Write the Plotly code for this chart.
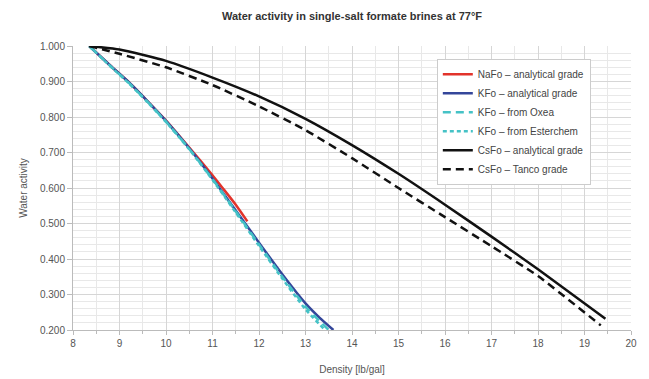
import plotly.graph_objects as go

# Density [lb/gal] and water activity for each brine
nafo_density = [8.35, 8.8, 9.2, 9.6, 10.0, 10.5, 11.0, 11.2, 11.5, 11.75]
nafo_aw = [1.000, 0.945, 0.898, 0.845, 0.790, 0.714, 0.636, 0.603, 0.553, 0.506]

kfo_density = [8.35, 8.8, 9.2, 9.6, 10.0, 10.5, 11.0, 11.5, 12.0, 12.5, 13.0, 13.3, 13.6]
kfo_aw = [1.000, 0.945, 0.898, 0.845, 0.789, 0.712, 0.627, 0.537, 0.446, 0.357, 0.275, 0.235, 0.200]

kfo_oxea_density = [8.35, 8.8, 9.2, 9.6, 10.0, 10.5, 11.0, 11.5, 12.0, 12.5, 13.0, 13.5]
kfo_oxea_aw = [1.000, 0.944, 0.896, 0.843, 0.787, 0.710, 0.625, 0.534, 0.441, 0.350, 0.266, 0.200]

kfo_ester_density = [8.35, 8.8, 9.2, 9.6, 10.0, 10.5, 11.0, 11.5, 12.0, 12.5, 13.0, 13.42]
kfo_ester_aw = [1.000, 0.943, 0.895, 0.842, 0.786, 0.709, 0.623, 0.531, 0.437, 0.345, 0.258, 0.200]

csfo_density = [8.35, 9.0, 10.0, 11.0, 12.0, 13.0, 14.0, 15.0, 16.0, 17.0, 18.0, 19.45]
csfo_aw = [1.000, 0.990, 0.958, 0.911, 0.858, 0.795, 0.721, 0.640, 0.553, 0.463, 0.371, 0.232]

csfo_tanco_density = [8.35, 9.0, 10.0, 11.0, 12.0, 13.0, 14.0, 15.0, 16.0, 17.0, 18.0, 19.35]
csfo_tanco_aw = [1.000, 0.978, 0.940, 0.890, 0.830, 0.763, 0.684, 0.600, 0.518, 0.436, 0.352, 0.213]

series = [
    ("NaFo \u2013 analytical grade", nafo_density, nafo_aw, "#e2332b", "solid"),
    ("KFo \u2013 analytical grade", kfo_density, kfo_aw, "#34469a", "solid"),
    ("KFo \u2013 from Oxea", kfo_oxea_density, kfo_oxea_aw, "#45c2c6", "8px,5px"),
    ("KFo \u2013 from Esterchem", kfo_ester_density, kfo_ester_aw, "#45c2c6", "4px,3px"),
    ("CsFo \u2013 analytical grade", csfo_density, csfo_aw, "#111111", "solid"),
    ("CsFo \u2013 Tanco grade", csfo_tanco_density, csfo_tanco_aw, "#111111", "8px,5px"),
]

fig = go.Figure()
for name, xs, ys, color, dash in series:
    fig.add_trace(go.Scatter(
        x=xs, y=ys, mode="lines", name=name,
        line=dict(color=color, width=2.5, dash=dash, shape="spline", smoothing=0.5),
    ))

font_family = "Liberation Sans, Arial, sans-serif"

fig.update_layout(
    width=649, height=379,
    margin=dict(l=73, r=18, t=46, b=49),
    paper_bgcolor="white",
    plot_bgcolor="white",
    font=dict(family=font_family, size=10, color="#555555"),
    title=dict(
        text="<b>Water activity in single-salt formate brines at 77\u00b0F</b>",
        x=0.5, xref="paper", xanchor="center",
        y=0.958, yref="container", yanchor="middle",
        font=dict(size=11, color="#333333"),
    ),
    legend=dict(
        x=0.652, y=0.955, xanchor="left", yanchor="top",
        bgcolor="white", bordercolor="#cccccc", borderwidth=1,
        font=dict(size=10, color="#444444"),
        tracegroupgap=0,
    ),
    xaxis=dict(
        range=[8, 20], dtick=1, tick0=8,
        automargin=False,
        showgrid=True, gridcolor="#d6d6d6", gridwidth=1,
        minor=dict(dtick=0.5, showgrid=True, gridcolor="#e8e8e8", ticks="outside",
                   ticklen=3, tickcolor="#bbbbbb"),
        ticks="outside", ticklen=4, tickcolor="#bbbbbb",
        showline=True, linecolor="#bbbbbb", linewidth=1,
        zeroline=False,
        title=dict(text="Density [lb/gal]", font=dict(size=10, color="#555555"), standoff=17),
        tickfont=dict(size=10, color="#555555"),
    ),
    yaxis=dict(
        range=[0.2, 1.0], dtick=0.1, tick0=0.2, tickformat=".3f",
        automargin=False,
        showgrid=True, gridcolor="#d6d6d6", gridwidth=1,
        minor=dict(dtick=0.02, showgrid=True, gridcolor="#e8e8e8"),
        ticks="outside", ticklen=5, tickcolor="#bbbbbb",
        showline=True, linecolor="#bbbbbb", linewidth=1,
        zeroline=False,
        title=dict(text="Water activity", font=dict(size=10, color="#555555"), standoff=10),
        tickfont=dict(size=10, color="#555555"),
    ),
)

fig.write_html("out.html")
